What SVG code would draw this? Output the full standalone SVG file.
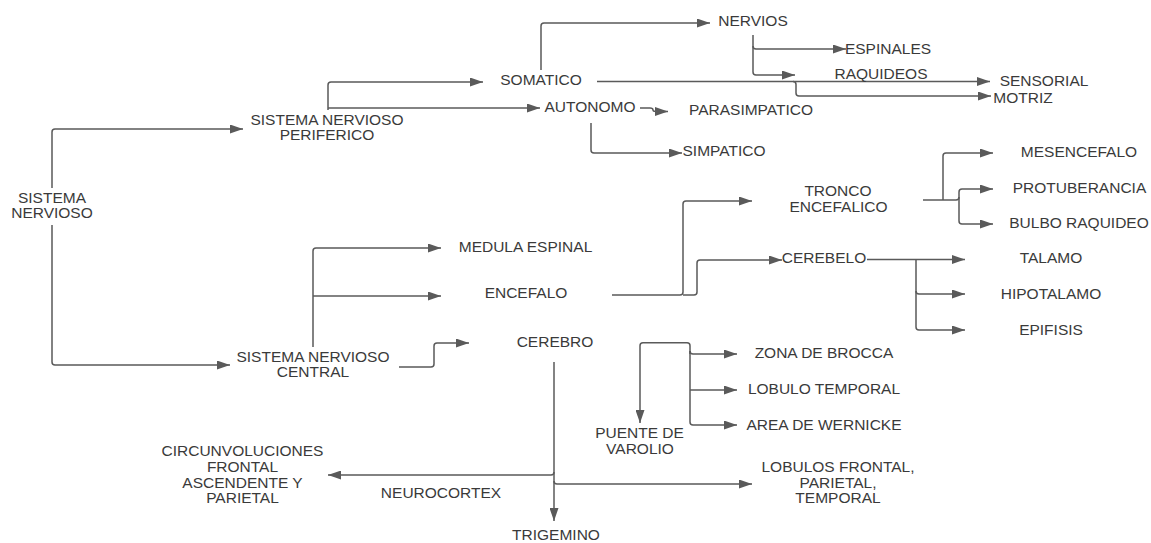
<svg xmlns="http://www.w3.org/2000/svg" width="1151" height="543" viewBox="0 0 1151 543">
  <style>
    .lbl { font-family: "Liberation Sans", Arial, sans-serif; font-size: 15.5px; fill: #3a3a3a; text-anchor: middle; }
    .wire { fill: none; stroke: #5a5a5a; stroke-width: 1.5; }
    .arr { marker-end: url(#head); }
  </style>
  <defs>
    <marker id="head" markerUnits="userSpaceOnUse" markerWidth="13" markerHeight="9" refX="13" refY="4.5" orient="auto">
      <path d="M0,0 L13,4.5 L0,9 z" fill="#5a5a5a"/>
    </marker>
  </defs>
  <rect width="1151" height="543" fill="#ffffff"/>

  <g id="connectors">
    <!-- sistema nervioso -> periferico / central -->
    <path class="wire arr" d="M52 188 V132 Q52 129 55 129 H243"/>
    <path class="wire arr" d="M52 225 V362 Q52 365 55 365 H230"/>
    <!-- periferico -> somatico / autonomo -->
    <path class="wire arr" d="M328 110 V85 Q328 82 331 82 H483"/>
    <path class="wire arr" d="M328 108 H540"/>
    <!-- somatico -> nervios -->
    <path class="wire arr" d="M541 70 V26 Q541 23 544 23 H710"/>
    <!-- somatico -> sensorial / motriz -->
    <path class="wire arr" d="M597 81.5 H990"/>
    <path class="wire arr" d="M793 81.5 Q796 81.5 796 84.5 V93 Q796 96 799 96 H991"/>
    <!-- nervios -> espinales / raquideos -->
    <path class="wire arr" d="M753 35 V72 Q753 75 756 75 H795"/>
    <path class="wire arr" d="M753 46 Q753 49 756 49 H846"/>
    <!-- autonomo -> parasimpatico / simpatico -->
    <path class="wire arr" d="M640 108 H650 Q653 108 653 110 Q653 111.5 656 111.5 H668"/>
    <path class="wire arr" d="M591 123 V150 Q591 153 594 153 H682"/>
    <!-- central -> medula espinal / encefalo / cerebro -->
    <path class="wire arr" d="M313 347 V251 Q313 248 316 248 H441"/>
    <path class="wire arr" d="M313 296 H441"/>
    <path class="wire arr" d="M399 367 H431 Q434 367 434 364 V346 Q434 343 437 343 H469"/>
    <!-- encefalo -> tronco / cerebelo -->
    <path class="wire arr" d="M612 295 H680 Q683 295 683 292 V204 Q683 201 686 201 H752"/>
    <path class="wire arr" d="M683 295 H694 Q697 295 697 292 V263 Q697 260 700 260 H782"/>
    <!-- tronco encefalico -> mesencefalo / protuberancia / bulbo -->
    <path class="wire" d="M923 200 H956"/>
    <path class="wire arr" d="M943 200 V156 Q943 153 946 153 H993"/>
    <path class="wire arr" d="M956 200 Q959 200 959 197 V192 Q959 189 962 189 H993"/>
    <path class="wire arr" d="M959 197 V221 Q959 224 962 224 H993"/>
    <!-- cerebelo -> talamo / hipotalamo / epifisis -->
    <path class="wire arr" d="M867 259.5 H965"/>
    <path class="wire arr" d="M916 259.5 V327 Q916 330 919 330 H965"/>
    <path class="wire arr" d="M916 291 Q916 294 919 294 H965"/>
    <!-- cerebro -> trigemino / neurocortex / lobulos -->
    <path class="wire arr" d="M554 362 V521"/>
    <path class="wire arr" d="M554 472 Q554 475 551 475 H328"/>
    <path class="wire arr" d="M554 481 Q554 484 557 484 H752"/>
    <!-- puente de varolio / zonas -->
    <path class="wire arr" d="M690 354 V345.7 Q690 342.7 687 342.7 H643 Q640 342.7 640 345.7 V423"/>
    <path class="wire arr" d="M690 351 Q690 354 693 354 H737"/>
    <path class="wire arr" d="M690 351 V422 Q690 425 693 425 H737"/>
    <path class="wire arr" d="M690 390 H737"/>
  </g>

  <g id="n-sistema-nervioso"><text class="lbl" x="52" y="203">SISTEMA</text><text class="lbl" x="52" y="218">NERVIOSO</text></g>
  <g id="n-periferico"><text class="lbl" x="327" y="125">SISTEMA NERVIOSO</text><text class="lbl" x="327" y="140">PERIFERICO</text></g>
  <g id="n-central"><text class="lbl" x="313" y="362">SISTEMA NERVIOSO</text><text class="lbl" x="313" y="377">CENTRAL</text></g>
  <g id="n-somatico"><text class="lbl" x="541" y="85">SOMATICO</text></g>
  <g id="n-autonomo"><text class="lbl" x="590" y="112">AUTONOMO</text></g>
  <g id="n-parasimpatico"><text class="lbl" x="751" y="115">PARASIMPATICO</text></g>
  <g id="n-simpatico"><text class="lbl" x="724" y="156">SIMPATICO</text></g>
  <g id="n-nervios"><text class="lbl" x="753" y="26">NERVIOS</text></g>
  <g id="n-espinales"><text class="lbl" x="888" y="54">ESPINALES</text></g>
  <g id="n-raquideos"><text class="lbl" x="881" y="79">RAQUIDEOS</text></g>
  <g id="n-sensorial"><text class="lbl" x="1044" y="86">SENSORIAL</text></g>
  <g id="n-motriz"><text class="lbl" x="1023" y="103">MOTRIZ</text></g>
  <g id="n-mesencefalo"><text class="lbl" x="1079" y="157">MESENCEFALO</text></g>
  <g id="n-protuberancia"><text class="lbl" x="1079.5" y="193">PROTUBERANCIA</text></g>
  <g id="n-bulbo"><text class="lbl" x="1079" y="228">BULBO RAQUIDEO</text></g>
  <g id="n-tronco"><text class="lbl" x="838" y="196">TRONCO</text><text class="lbl" x="838.5" y="212">ENCEFALICO</text></g>
  <g id="n-cerebelo"><text class="lbl" x="824" y="263">CEREBELO</text></g>
  <g id="n-talamo"><text class="lbl" x="1051" y="263">TALAMO</text></g>
  <g id="n-hipotalamo"><text class="lbl" x="1051" y="299">HIPOTALAMO</text></g>
  <g id="n-epifisis"><text class="lbl" x="1051" y="335">EPIFISIS</text></g>
  <g id="n-medula"><text class="lbl" x="525.5" y="252">MEDULA ESPINAL</text></g>
  <g id="n-encefalo"><text class="lbl" x="526" y="298">ENCEFALO</text></g>
  <g id="n-cerebro"><text class="lbl" x="555" y="347">CEREBRO</text></g>
  <g id="n-brocca"><text class="lbl" x="824" y="358">ZONA DE BROCCA</text></g>
  <g id="n-lobulo-temporal"><text class="lbl" x="824" y="394">LOBULO TEMPORAL</text></g>
  <g id="n-wernicke"><text class="lbl" x="824" y="430">AREA DE WERNICKE</text></g>
  <g id="n-puente"><text class="lbl" x="639.5" y="438">PUENTE DE</text><text class="lbl" x="640" y="454">VAROLIO</text></g>
  <g id="n-lobulos"><text class="lbl" x="838" y="472">LOBULOS FRONTAL,</text><text class="lbl" x="838" y="487.5">PARIETAL,</text><text class="lbl" x="838" y="503">TEMPORAL</text></g>
  <g id="n-trigemino"><text class="lbl" x="556" y="540">TRIGEMINO</text></g>
  <g id="n-circunvoluciones"><text class="lbl" x="242.5" y="456">CIRCUNVOLUCIONES</text><text class="lbl" x="242.5" y="472">FRONTAL</text><text class="lbl" x="242.5" y="488">ASCENDENTE Y</text><text class="lbl" x="242.5" y="503">PARIETAL</text></g>
  <g id="n-neurocortex"><text class="lbl" x="441" y="498">NEUROCORTEX</text></g>
</svg>
